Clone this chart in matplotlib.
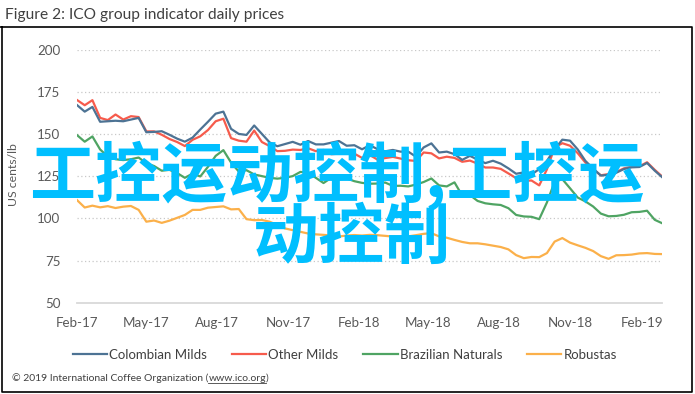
import pandas as pd
import matplotlib
matplotlib.use("Agg")
import matplotlib.pyplot as plt
import matplotlib.dates as mdates
from matplotlib.lines import Line2D

# roughly every 10 days
dates = pd.date_range("2017-02-01", "2019-02-28", periods=77)

colombian = [167.1, 163.2, 166.0, 157.2, 157.5, 157.8, 157.5, 158.5, 159.5, 151.0,
             151.2, 151.6, 149.5, 147.2, 145.4, 147.8, 152.6, 157.2, 162.0, 163.2,
             153.0, 150.0, 149.4, 155.0, 150.0, 145.0, 142.7, 144.0, 145.3, 143.6,
             145.8, 143.8, 143.8, 144.8, 145.8, 143.0, 143.3, 140.9, 143.3, 141.0,
             139.7, 140.5, 139.5, 139.5, 136.5, 142.0, 144.4, 139.0, 139.5, 138.0,
             134.6, 137.0, 134.8, 132.7, 134.1, 132.4, 129.6, 126.4, 127.2, 125.9,
             129.2, 134.0, 141.0, 146.6, 146.0, 140.8, 134.0, 129.5, 125.3, 125.8,
             127.0, 129.2, 130.2, 130.4, 132.8, 128.2, 124.2]

other_milds = [170.1, 167.0, 170.0, 159.5, 158.2, 161.5, 158.5, 160.5, 160.0, 151.5,
               151.5, 149.5, 147.0, 145.2, 142.8, 146.5, 148.6, 152.3, 157.5, 159.0,
               147.5, 146.0, 145.4, 152.0, 145.2, 142.8, 139.8, 140.0, 140.7, 140.5,
               141.5, 139.8, 140.5, 138.0, 138.3, 140.5, 138.3, 135.8, 137.5, 134.8,
               135.7, 136.4, 135.4, 134.4, 134.0, 139.0, 138.5, 135.5, 136.5, 135.8,
               133.5, 134.2, 132.4, 130.1, 130.1, 129.3, 126.6, 123.8, 122.2, 122.4,
               119.5, 129.0, 142.0, 144.5, 143.0, 138.6, 133.0, 129.0, 125.5, 126.2,
               127.4, 129.6, 130.6, 130.8, 133.2, 128.7, 124.6]

brazilian = [149.3, 145.4, 148.5, 140.8, 136.6, 135.0, 134.5, 135.0, 136.0, 132.6,
             131.0, 128.2, 128.7, 126.8, 124.0, 126.5, 124.8, 130.5, 137.0, 140.4,
             133.0, 127.7, 128.5, 126.0, 125.0, 124.0, 123.5, 124.0, 125.0, 127.5,
             127.0, 124.0, 120.9, 124.0, 123.0, 123.6, 122.0, 121.0, 120.5, 120.6,
             121.2, 119.2, 119.3, 118.9, 120.0, 121.5, 123.6, 119.5, 118.9, 121.3,
             113.5, 113.8, 110.3, 108.9, 108.3, 107.9, 106.0, 102.0, 101.1, 100.9,
             99.5, 109.4, 121.6, 123.2, 117.8, 112.3, 110.0, 107.0, 102.8, 101.2,
             101.4, 102.1, 103.6, 103.8, 104.5, 99.1, 97.0]

robustas = [110.8, 106.4, 107.5, 106.5, 107.2, 106.1, 106.9, 107.3, 105.0, 98.0,
            98.7, 97.3, 98.6, 100.3, 102.0, 105.0, 105.0, 106.3, 106.7, 107.1,
            105.3, 105.5, 99.5, 98.9, 99.0, 98.0, 96.0, 94.0, 93.0, 92.0,
            91.0, 90.5, 90.2, 89.8, 89.2, 89.8, 90.1, 89.8, 90.2, 90.0,
            89.6, 89.2, 89.1, 89.3, 90.0, 90.8, 91.2, 89.3, 88.5, 87.2,
            86.0, 85.2, 85.2, 84.6, 83.8, 83.0, 81.6, 78.2, 76.4, 77.1,
            77.0, 79.4, 86.2, 88.3, 85.6, 84.0, 82.5, 80.6, 77.6, 76.0,
            78.1, 78.2, 78.5, 79.2, 79.4, 78.9, 78.8]

series = [
    ("Colombian Milds", colombian, "#4D7394"),
    ("Other Milds", other_milds, "#F65B4C"),
    ("Brazilian Naturals", brazilian, "#4FA463"),
    ("Robustas", robustas, "#FBB04A"),
]

font = "Lato"
grey = "#595959"

fig = plt.figure(figsize=(6.95, 3.94), dpi=100)
ax = fig.add_axes([0.1108, 0.2317, 0.8424, 0.6426])

# Colombian drawn on top of Other Milds, like the original
for name, vals, col in [series[3], series[2], series[1], series[0]]:
    ax.plot(dates, vals, color=col, lw=1.6, label=name, zorder=3)

ax.set_ylim(50, 200)
ax.set_yticks([50, 75, 100, 125, 150, 175, 200])
ax.set_xlim(dates[0], dates[-1])
ax.xaxis.set_major_locator(mdates.MonthLocator(bymonth=[2, 5, 8, 11]))
ax.xaxis.set_major_formatter(mdates.DateFormatter("%b-%y"))

ax.grid(axis="y", color="#C8C8C8", ls=(0, (1, 2)), lw=0.9)
for s in ["top", "right", "left"]:
    ax.spines[s].set_visible(False)
ax.spines["bottom"].set_color("#D9D9D9")
ax.spines["bottom"].set_linewidth(1.3)
ax.tick_params(axis="both", length=0, labelsize=9.6, labelcolor=grey)
ax.tick_params(axis="y", pad=12)
ax.tick_params(axis="x", pad=10)
for lab in ax.get_xticklabels() + ax.get_yticklabels():
    lab.set_fontfamily(font)

fig.text(14 / 695, 1 - 175 / 394, "US cents/lb", rotation=90, ha="center", va="center",
         fontsize=8.8, color=grey, family=font)

fig.text(5 / 695, 1 - 15 / 394, "Figure 2: ICO group indicator daily prices",
         ha="left", va="center", fontsize=11.2, color="#404040", family=font)

# legend
handles = [Line2D([], [], color=c, lw=1.6) for _, _, c in series]
fig.legend(handles, [n for n, _, _ in series], loc="center", ncol=4,
           bbox_to_anchor=(0.496, 1 - 355 / 394), frameon=False,
           prop={"family": font, "size": 9.5}, handlelength=2.6, handletextpad=0.15,
           columnspacing=1.9, labelcolor="#404040")

# footer with underlined link
fig.canvas.draw()
r = fig.canvas.get_renderer()
fy = 1 - 381 / 394
x0 = 12 / 695
parts = ["\u00a9 2019 International Coffee Organization (", "www.ico.org", ")"]
xpos = x0
for i, p in enumerate(parts):
    t = fig.text(xpos, fy, p, ha="left", va="baseline", fontsize=7.5,
                 color="#404040", family=font)
    bb = t.get_window_extent(r).transformed(fig.transFigure.inverted())
    if i == 1:
        fig.add_artist(Line2D([bb.x0, bb.x1], [fy - 0.004, fy - 0.004],
                              color="#404040", lw=0.6, transform=fig.transFigure))
    xpos = bb.x1

# outer frame (title sits above it)
W, H = 695, 394
frame = [(0, 27), (691.5, 27), (691.5, 391.5), (1.5, 391.5), (1.5, 27)]
fig.add_artist(Line2D([p[0] / W for p in frame], [1 - p[1] / H for p in frame],
                      color="black", lw=1.2, transform=fig.transFigure))

# watermark
wm = "#00BFFF"
fig.text(29 / W, 1 - 176 / H, "工控运动控制,工控运", ha="left", va="center",
         fontsize=47.5, color=wm, fontweight="bold",
         family=["Noto Sans CJK SC", "DejaVu Sans"], zorder=10)
fig.text(253 / W, 1 - 238 / H, "动控制", ha="left", va="center",
         fontsize=47.5, color=wm, fontweight="bold",
         family=["Noto Sans CJK SC", "DejaVu Sans"], zorder=10)

fig.savefig("out.png", dpi=100)
